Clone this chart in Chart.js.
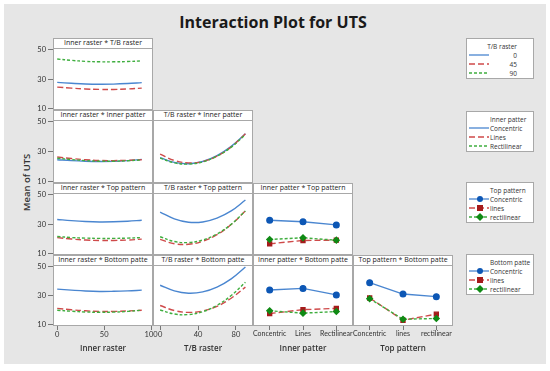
<!DOCTYPE html>
<html lang="en">
<head>
<meta charset="UTF-8">
<title>Interaction Plot for UTS</title>
<script src="https://cdn.jsdelivr.net/npm/chart.js"></script>
<style>
  html, body { margin: 0; padding: 0; background: #fff; }
  #page { position: relative; width: 550px; height: 371px; overflow: hidden; font-family: "Open Sans", sans-serif; color: #222; }
  #frame { position: absolute; left: 4px; top: 4px; width: 542px; height: 360px; background: #e6e6e6; }
  #title { position: absolute; left: 0; width: 546px; top: 11px; text-align: center; font-size: 16px; font-weight: 700; color: #1a1a1a; }
  .box { position: absolute; box-sizing: border-box; background: #fff; border: 1px solid #a8a8a8; }
  .strip { position: absolute; box-sizing: border-box; background: #fff; border: 1px solid #a8a8a8; font-size: 7px; line-height: 8px; text-align: center; white-space: nowrap; overflow: hidden; color: #222; }
  canvas { position: absolute; }
  .axt { position: absolute; font-size: 8px; font-weight: 600; color: #333; text-align: center; width: 100px; }
  #ytitle { position: absolute; left: -4px; top: 176px; width: 60px; text-align: center; font-size: 9.5px; font-weight: 600; color: #333; transform: rotate(-90deg); }
  .legend { position: absolute; box-sizing: border-box; left: 466px; width: 68px; height: 41px; background: #fff; border: 1px solid #a8a8a8; font-size: 6.5px; color: #333; }
  .legend span { position: absolute; line-height: 7px; white-space: nowrap; }
  .legend svg { position: absolute; left: 2px; }
</style>
</head>
<body>
<div id="page">
  <div id="frame"></div>
  <div id="title">Interaction Plot for UTS</div>
  <div id="ytitle">Mean of UTS</div>
</div>
<script>
  // x values of the fitted curves and category names
  const innerRaster = [0, 15, 30, 45, 60, 75, 90];
  const tbRaster = [0, 15, 30, 45, 60, 75, 90];
  const innerPatterns = ['Concentric', 'Lines', 'Rectilinear'];
  const topPatterns = ['Concentric', 'lines', 'rectilinear'];

  // Inner raster * T/B raster  (T/B raster = 0, 45, 90)
  const irTb0 = [27.8, 27.2, 26.7, 26.5, 26.6, 27.0, 27.6];
  const irTb45 = [24.6, 23.9, 23.3, 23.0, 23.0, 23.3, 23.9];
  const irTb90 = [43.7, 42.8, 42.1, 41.8, 41.8, 42.0, 42.4];

  // Inner raster * Inner patter
  const irIpConc = [24.6, 24.0, 23.6, 23.4, 23.5, 24.0, 24.8];
  const irIpLines = [26.4, 25.4, 24.6, 24.1, 24.0, 24.2, 24.6];
  const irIpRect = [25.6, 24.7, 24.0, 23.6, 23.6, 23.9, 24.4];

  // T/B raster * Inner patter
  const tbIpConc = [26.0, 22.8, 21.9, 23.4, 27.3, 33.5, 42.0];
  const tbIpLines = [28.4, 24.1, 22.5, 23.4, 27.0, 33.2, 42.0];
  const tbIpRect = [25.7, 22.5, 21.7, 23.1, 27.0, 33.0, 41.5];

  // Inner raster * Top pattern
  const irTpConc = [33.2, 32.4, 31.8, 31.5, 31.6, 32.0, 32.7];
  const irTpLines = [20.8, 19.9, 19.2, 18.9, 18.9, 19.2, 19.8];
  const irTpRect = [21.6, 20.9, 20.5, 20.3, 20.3, 20.5, 20.9];

  // T/B raster * Top pattern
  const tbTpConc = [38.2, 33.6, 31.3, 31.5, 34.1, 39.0, 46.4];
  const tbTpLines = [19.6, 16.7, 16.3, 18.4, 22.8, 29.7, 39.0];
  const tbTpRect = [21.4, 18.2, 17.5, 19.2, 23.3, 29.9, 39.0];

  // Inner patter * Top pattern
  const ipTpConc = [32.7, 31.6, 29.5];
  const ipTpLines = [16.6, 18.9, 19.1];
  const ipTpRect = [19.6, 20.7, 19.1];

  // Inner raster * Bottom patte
  const irBpConc = [34.5, 33.8, 33.2, 32.9, 33.0, 33.3, 33.8];
  const irBpLines = [21.2, 20.2, 19.5, 19.1, 19.1, 19.4, 19.9];
  const irBpRect = [19.9, 19.2, 18.7, 18.5, 18.6, 19.1, 19.9];

  // T/B raster * Bottom patte
  const tbBpConc = [37.2, 33.3, 31.7, 32.6, 35.9, 41.6, 49.8];
  const tbBpLines = [23.2, 19.7, 18.4, 19.4, 22.6, 28.2, 35.9];
  const tbBpRect = [20.1, 17.3, 16.9, 18.9, 23.3, 30.1, 39.3];

  // Inner patter * Bottom patte
  const ipBpConc = [33.9, 35.0, 30.5];
  const ipBpLines = [17.6, 20.3, 21.2];
  const ipBpRect = [19.5, 17.9, 19.0];

  // Top pattern * Bottom patte
  const tpBpConc = [39.0, 31.1, 29.3];
  const tpBpLines = [28.4, 13.0, 17.2];
  const tpBpRect = [27.9, 13.7, 14.2];

  const yTicks = [10, 30, 50];
  const xTicksInner = [0, 50, 100];
  const xTicksTb = [0, 40, 80];

  const BLUE = '#4a86d0', BLUE_PT = '#0d57b5';
  const RED = '#cf4a4a', RED_PT = '#a51b1b';
  const GREEN = '#3fae3f', GREEN_PT = '#0f8a14';

  const styles = [
    { color: BLUE, pt: BLUE_PT, dash: [], shape: 'circle', order: 3 },
    { color: RED, pt: RED_PT, dash: [6, 3], shape: 'rect', order: 2 },
    { color: GREEN, pt: GREEN_PT, dash: [3, 2], shape: 'rectRot', order: 1 }
  ];

  const colX = [53, 153, 253, 353];
  const rowTop = [38, 110, 183, 255];
  const rowBottom = [110, 183, 255, 326];
  const STRIP = 10, AX_W = 30, AX_H = 16, PAD = 14, VPAD = 8;

  const page = document.getElementById('page');

  function addDiv(cls, x, y, w, h, text) {
    const d = document.createElement('div');
    d.className = cls;
    d.style.left = x + 'px';
    d.style.top = y + 'px';
    if (w) d.style.width = w + 'px';
    if (h) d.style.height = h + 'px';
    if (text) d.textContent = text;
    page.appendChild(d);
    return d;
  }

  function fixTicks(values) {
    return function (scale) { scale.ticks = values.map(v => ({ value: v })); };
  }

  function makePanel(p) {
    const r = p.row, c = p.col;
    const top = rowTop[r] + STRIP;
    const h = rowBottom[r] - top;
    addDiv('box', colX[c], top, 100, h);
    addDiv('strip', colX[c], rowTop[r], 100, STRIP + 1, p.title);

    const showY = c === 0, showX = r === 3;
    const canvas = document.createElement('canvas');
    const cw = 100 + 2 * PAD + (showY ? AX_W : 0);
    const ch = h + 2 * VPAD + (showX ? AX_H : 0);
    canvas.width = cw;
    canvas.height = ch;
    canvas.style.left = (colX[c] - PAD - (showY ? AX_W : 0)) + 'px';
    canvas.style.top = (top - VPAD) + 'px';
    page.appendChild(canvas);

    const categorical = !p.xs;
    const datasets = p.series.map((ys, i) => {
      const s = styles[i];
      return {
        data: categorical ? ys : p.xs.map((x, j) => ({ x: x, y: ys[j] })),
        borderColor: s.color,
        borderWidth: 1.4,
        borderDash: s.dash,
        tension: categorical ? 0 : 0.4,
        pointRadius: categorical ? 2.8 : 0,
        pointStyle: s.shape,
        pointBackgroundColor: s.pt,
        pointBorderColor: s.pt,
        order: s.order
      };
    });

    const xFont = { family: 'Lato', size: categorical ? 7 : 7.5 };
    const xScale = categorical ? {
      type: 'category',
      labels: p.labels,
      offset: true
    } : {
      type: 'linear',
      min: p.xMin,
      max: p.xMax,
      afterBuildTicks: fixTicks(p.xTicks)
    };
    Object.assign(xScale, {
      display: showX,
      border: { display: false },
      grid: { display: true, drawOnChartArea: false, tickLength: 4, color: '#777', offset: false },
      ticks: { color: '#333', font: xFont, padding: 0, maxRotation: 0, autoSkip: false },
      afterFit: function (s) {
        if (!showX) return;
        s.height = AX_H; s.paddingLeft = 0; s.paddingRight = 0;
      }
    });

    new Chart(canvas, {
      type: 'line',
      data: categorical ? { labels: p.labels, datasets: datasets } : { datasets: datasets },
      options: {
        responsive: false,
        animation: false,
        layout: { padding: { left: PAD, right: PAD, top: VPAD, bottom: VPAD } },
        plugins: { legend: { display: false }, tooltip: { enabled: false } },
        scales: {
          x: xScale,
          y: {
            type: 'linear',
            min: 9,
            max: 51.2,
            display: showY,
            border: { display: false },
            afterBuildTicks: fixTicks(yTicks),
            grid: { display: true, drawOnChartArea: false, tickLength: 5, color: '#777' },
            ticks: { color: '#333', font: { family: 'Lato', size: 7.5 }, padding: 2 },
            afterFit: function (s) {
              if (!showY) return;
              s.width = AX_W; s.paddingTop = 0; s.paddingBottom = 0;
            }
          }
        }
      }
    });
  }

  const panels = [
    { row: 0, col: 0, title: 'Inner raster * T/B raster', xs: innerRaster, xMin: -4.5, xMax: 102, xTicks: xTicksInner, series: [irTb0, irTb45, irTb90] },
    { row: 1, col: 0, title: 'Inner raster * Inner patter', xs: innerRaster, xMin: -4.5, xMax: 102, xTicks: xTicksInner, series: [irIpConc, irIpLines, irIpRect] },
    { row: 1, col: 1, title: 'T/B raster * Inner patter', xs: tbRaster, xMin: -7.5, xMax: 98, xTicks: xTicksTb, series: [tbIpConc, tbIpLines, tbIpRect] },
    { row: 2, col: 0, title: 'Inner raster * Top pattern', xs: innerRaster, xMin: -4.5, xMax: 102, xTicks: xTicksInner, series: [irTpConc, irTpLines, irTpRect] },
    { row: 2, col: 1, title: 'T/B raster * Top pattern', xs: tbRaster, xMin: -7.5, xMax: 98, xTicks: xTicksTb, series: [tbTpConc, tbTpLines, tbTpRect] },
    { row: 2, col: 2, title: 'Inner patter * Top pattern', labels: innerPatterns, series: [ipTpConc, ipTpLines, ipTpRect] },
    { row: 3, col: 0, title: 'Inner raster * Bottom patte', xs: innerRaster, xMin: -4.5, xMax: 102, xTicks: xTicksInner, series: [irBpConc, irBpLines, irBpRect] },
    { row: 3, col: 1, title: 'T/B raster * Bottom patte', xs: tbRaster, xMin: -7.5, xMax: 98, xTicks: xTicksTb, series: [tbBpConc, tbBpLines, tbBpRect] },
    { row: 3, col: 2, title: 'Inner patter * Bottom patte', labels: innerPatterns, series: [ipBpConc, ipBpLines, ipBpRect] },
    { row: 3, col: 3, title: 'Top pattern * Bottom patte', labels: topPatterns, series: [tpBpConc, tpBpLines, tpBpRect] }
  ];

  panels.forEach(makePanel);

  // axis titles under each column
  ['Inner raster', 'T/B raster', 'Inner patter', 'Top pattern'].forEach((t, i) => {
    addDiv('axt', colX[i], 342, 100, 0, t);
  });

  // legends
  function sampleSvg(i, y, withMarker) {
    const s = styles[i];
    const dash = s.dash.length ? ' stroke-dasharray="' + s.dash.join(',') + '"' : '';
    let mk = '';
    if (withMarker) {
      if (s.shape === 'circle') mk = '<circle cx="11" cy="4" r="3" fill="' + s.pt + '"/>';
      else if (s.shape === 'rect') mk = '<rect x="8" y="1" width="6" height="6" fill="' + s.pt + '"/>';
      else mk = '<polygon points="11,0 15,4 11,8 7,4" fill="' + s.pt + '"/>';
    }
    return '<svg width="20" height="8" style="top:' + (y - 4) + 'px"><line x1="0" y1="4" x2="20" y2="4" stroke="' + s.color + '" stroke-width="1.3"' + dash + '/>' + mk + '</svg>';
  }

  function makeLegend(top, title, items, withMarker, rightAlign) {
    const box = addDiv('legend', 466, top);
    const rows = [17, 26, 35];
    const pos = rightAlign ? 'right:16px;' : 'left:23px;';
    let html = '<span style="' + pos + 'top:4px">' + title + '</span>';
    items.forEach((it, i) => {
      html += sampleSvg(i, rows[i] - 1, withMarker);
      html += '<span style="' + pos + 'top:' + (rows[i] - 4) + 'px">' + it + '</span>';
    });
    box.innerHTML = html;
  }

  makeLegend(38, 'T/B raster', ['0', '45', '90'], false, true);
  makeLegend(111, 'Inner patter', innerPatterns, false, false);
  makeLegend(182, 'Top pattern', topPatterns, true, false);
  makeLegend(254, 'Bottom patte', topPatterns, true, false);
</script>
</body>
</html>
